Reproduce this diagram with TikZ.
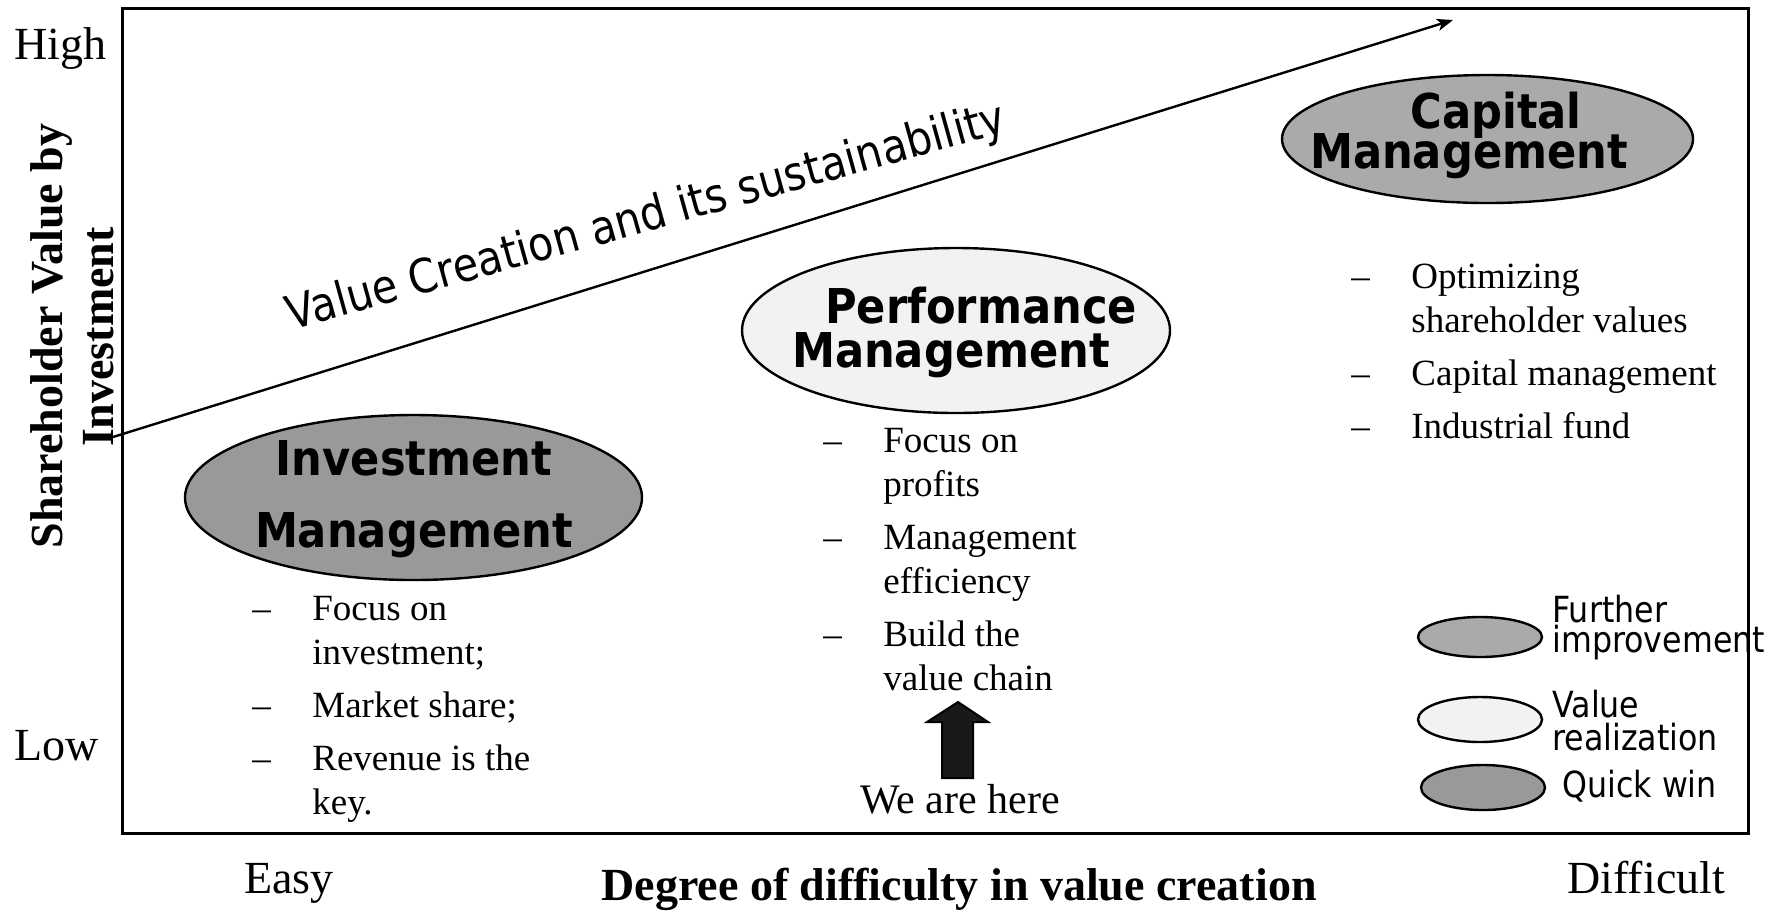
\documentclass[tikz,border=0pt]{standalone}
\usepackage{fontspec}
\setmainfont{Liberation Serif}
\newfontfamily\tahfont[FakeStretch=0.88]{DejaVu Sans}
\newfontfamily\tahbfont[FakeStretch=0.9]{DejaVu Sans}
\usetikzlibrary{shapes.geometric,arrows.meta}
\definecolor{quickgray}{gray}{0.60}
\definecolor{furthergray}{gray}{0.667}
\definecolor{valuegray}{gray}{0.95}
\definecolor{arrowfill}{gray}{0.1}
\newcommand\dashitem{\makebox[30pt][l]{–}}
\newcommand\contline{\hspace*{30pt}}
\begin{document}
\begin{tikzpicture}[x=0.5pt,y=-0.5pt,
  blob/.style={ellipse, draw=black, line width=1.2pt, inner sep=0pt},
  titletext/.style={font=\tahbfont\bfseries\fontsize{24pt}{29pt}\selectfont, anchor=base, inner sep=0pt},
  bodytext/.style={font=\fontsize{18.5pt}{22pt}\selectfont, anchor=base west, align=left, inner sep=0pt},
  legendtext/.style={font=\tahfont\fontsize{18pt}{15pt}\selectfont, anchor=base west, align=left, inner sep=0pt},
  axistext/.style={font=\fontsize{23pt}{28pt}\selectfont, anchor=base west, inner sep=0pt},
  ylabel/.style={font=\bfseries\fontsize{23pt}{28pt}\selectfont, anchor=base, rotate=90, inner sep=0pt},
]
\useasboundingbox (0,0) rectangle (1780,912);
\fill[white] (0,0) rectangle (1780,912);

% frame
\draw[line width=1.5pt] (122,8) rectangle (1748,833);

% main arrow
\coordinate (vs) at (113,437);
\coordinate (ve) at (1453,20);
\draw[line width=1.2pt, -{Stealth[length=8pt,width=6pt,inset=2pt]}] (vs) -- (ve);
\node[font=\tahfont\fontsize{23.5pt}{28pt}\selectfont, anchor=base, rotate=15.5, inner sep=0pt] (vc) at (650,231) {Value Creation and its sustainability};

% ellipses
\node[blob, fill=quickgray, minimum width=228.5pt, minimum height=82.5pt] (inv) at (413.5,497.5) {};
\node[blob, fill=valuegray, minimum width=214pt, minimum height=82.5pt] (perf) at (956,330.5) {};
\node[blob, fill=furthergray, minimum width=205.5pt, minimum height=64pt] (cap) at (1487.5,139) {};

\node[titletext] (invA) at (414,475) {Investment};
\node[titletext] (invB) at (414,547) {Management};
\node[titletext] (perfA) at (981,323) {Performance};
\node[titletext] (perfB) at (951,367) {Management};
\node[titletext] (capA) at (1496,128) {Capital};
\node[titletext] (capB) at (1469,168) {Management};

% bullet lists (anchor = baseline of the last line)
\node[bodytext] (invlist) at (252,814) {\dashitem Focus on\\ \contline investment;\\[4.5pt] \dashitem Market share;\\[4.5pt] \dashitem Revenue is the\\ \contline key.};
\node[bodytext] (perflist) at (823,690) {\dashitem Focus on\\ \contline profits\\[4.5pt] \dashitem Management\\ \contline efficiency\\[4.5pt] \dashitem Build the\\ \contline value chain};
\node[bodytext] (caplist) at (1351,438) {\dashitem Optimizing\\ \contline shareholder values\\[4.5pt] \dashitem Capital management\\[4.5pt] \dashitem Industrial fund};

% we are here
\draw[line width=1pt, fill=arrowfill] (942,778) -- (942,722) -- (927,722) -- (958,702) -- (988,722) -- (973,722) -- (973,778) -- cycle;
\node[font=\fontsize{21pt}{25pt}\selectfont, anchor=base, inner sep=0pt] (here) at (960,813) {We are here};

% legend
\node[blob, fill=furthergray, minimum width=62pt, minimum height=20pt] (lgA) at (1480,637) {};
\node[blob, fill=valuegray, minimum width=62pt, minimum height=22.5pt] (lgB) at (1480,719.5) {};
\node[blob, fill=quickgray, minimum width=62pt, minimum height=22.5pt] (lgC) at (1483,787.5) {};
\node[legendtext] (lgAt) at (1552,652) {Further\\improvement};
\node[legendtext, font=\tahfont\fontsize{18pt}{16.5pt}\selectfont] (lgBt) at (1552,750) {Value\\realization};
\node[legendtext] (lgCt) at (1562,797) {Quick win};

% axes texts
\node[axistext] (high) at (14,59) {High};
\node[axistext] (low) at (14,760) {Low};
\node[axistext] (easy) at (244,893) {Easy};
\node[axistext] (diff) at (1567,893) {Difficult};
\node[font=\bfseries\fontsize{23pt}{28pt}\selectfont, anchor=base, inner sep=0pt] (xlab) at (959,900) {Degree of difficulty in value creation};
\node[ylabel] (ylabA) at (62,336) {Shareholder Value by};
\node[ylabel] (ylabB) at (113,337) {Investment};
\end{tikzpicture}
\end{document}
